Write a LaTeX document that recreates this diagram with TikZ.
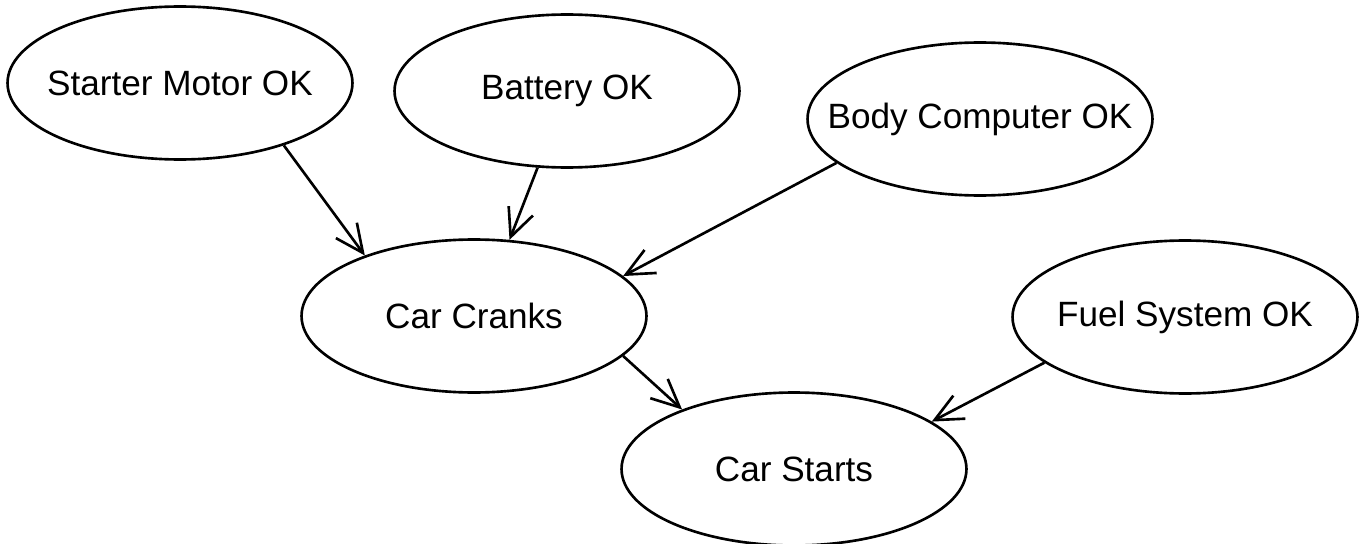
\documentclass[tikz,border=0pt]{standalone}
\usepackage{fontspec}
\setmainfont{Liberation Sans}
\usetikzlibrary{arrows.meta,shapes.geometric}

\begin{document}
\begin{tikzpicture}[x=0.02cm,y=-0.02cm,
  var/.style={ellipse,draw,line width=1.5pt,minimum width=6.9cm,minimum height=3.06cm,
    inner xsep=-30pt,inner ysep=0pt,font=\fontsize{20pt}{24pt}\selectfont},
  dep/.style={line width=1.5pt,-{Straight Barb[length=0.56cm,width=0.52cm,line width=1.5pt]}}]
\useasboundingbox (0,0) rectangle (1366,544);
\node[var] (starter) at (180,83) {Starter Motor OK};
\node[var] (battery) at (567,91) {Battery OK};
\node[var] (body) at (980,119) {Body Computer OK};
\node[var] (cranks) at (474,316) {Car Cranks};
\node[var] (fuel) at (1185,317) {Fuel System OK};
\node[var] (starts) at (794,469) {Car Starts};
% parents of the crank node
\draw[dep] (starter.-31) -- (cranks.151);
\draw[dep] (battery.-111) -- (cranks.65);
\draw[dep] (body.-163) -- (cranks.15);
% parents of the start node
\draw[dep] (cranks.-15) -- (starts.152);
\draw[dep] (fuel.-162) -- (starts.19);
\end{tikzpicture}
\end{document}
